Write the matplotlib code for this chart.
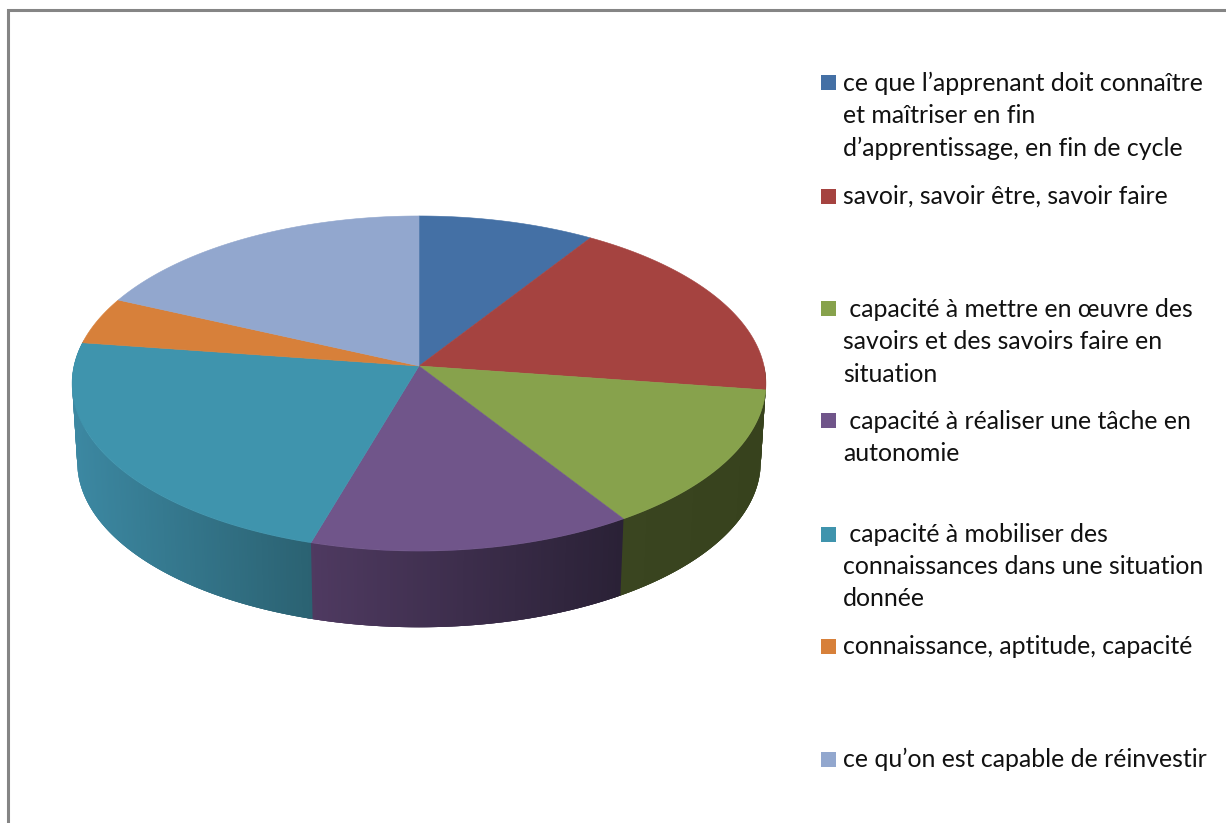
# -*- coding: utf-8 -*-
"""
plot.py
3D looking pie chart with the legend on the right
"""

import numpy as np
import matplotlib.pyplot as plt
from matplotlib.patches import Rectangle

# the data ...
labels = [
    ["ce que l’apprenant doit connaître", "et maîtriser en fin",
     "d’apprentissage, en fin de cycle"],
    ["savoir, savoir être, savoir faire"],
    [" capacité à mettre en œuvre des", "savoirs et des savoirs faire en",
     "situation"],
    [" capacité à réaliser une tâche en", "autonomie"],
    [" capacité à mobiliser des", "connaissances dans une situation",
     "donnée"],
    ["connaissance, aptitude, capacité"],
    ["ce qu’on est capable de réinvestir"],
]
values = [2, 4, 3, 3, 5, 1, 4]
colors = ["#4470A5", "#A54340", "#87A24C", "#70558A", "#3F94AD", "#D7803A",
          "#92A7CE"]

# side wall shade per slice, (left end, right end); None has no visible wall
wallColors = [None, ("#37421d", "#37421d"), ("#3a4520", "#37421d"),
              ("#4f3a61", "#2a2136"), ("#3c88a2", "#2b6272"), None, None]

# legend layout: text baseline of the first line, in pixels
legendBase = [90.5, 203.5, 316.5, 428.5, 541.5, 654, 767]
LINE_STEP = 32.5

# pie geometry, in pixels
CX, CY = 419, 366
A, B, K = 345.0, 165.7, 0.1045
DEPTH = 79
SHRINK = 0.985


def project(theta, scale=1.0, dy=0.0):
    """
    perspective view of the unit circle, theta clockwise from the top
    (in degrees). returns pixel coordinates
    """
    t = np.radians(theta)
    x, y = np.sin(t), np.cos(t)
    w = 1 + K*y
    return CX + scale*A*x/w, CY + dy - scale*B*y/w


def hexToRgb(c):
    return np.array([int(c[i:i+2], 16)/255.0 for i in (1, 3, 5)])


fig = plt.figure(figsize=(12.26, 8.23), dpi=100)
ax = fig.add_axes([0, 0, 1, 1])
ax.set_xlim(0, 1226)
ax.set_ylim(823, 0)
ax.axis('off')

# the border, only top and left are in the picture ...
ax.plot([8, 8, 1226], [823, 10, 10], color='#858585', linewidth=2.2,
        solid_joinstyle='miter', zorder=1)

edges = np.cumsum([0] + values)*360.0/np.sum(values)

# first the walls: narrow strips so that the shade can run from left to right.
# every strip overlaps the next ones a bit, this avoids seams between them
for i in range(len(values)):
    if wallColors[i] is None:
        continue
    a0 = max(edges[i], 90.0)
    a1 = min(edges[i+1], 280.0)
    steps = np.append(np.arange(a0, a1, 0.5), a1)
    xs, _ = project(steps)
    left, right = hexToRgb(wallColors[i][0]), hexToRgb(wallColors[i][1])
    for j in range(len(steps)-1):
        th = np.linspace(steps[j], steps[j] + 1.5, 4)
        xt, yt = project(th)
        xb, yb = project(th[::-1], SHRINK, DEPTH)
        f = (xs[j] - xs.min())/(xs.max() - xs.min())
        c = left + f*(right - left)
        ax.fill(np.r_[xt, xb], np.r_[yt, yb], facecolor=c, edgecolor='none',
                zorder=2)

# ... then the top face
for i in range(len(values)):
    th = np.linspace(edges[i], edges[i+1], 200)
    x, y = project(th)
    ax.fill(np.r_[CX, x], np.r_[CY, y], color=colors[i], linewidth=0.4,
            zorder=3)

# the legend
for i in range(len(labels)):
    base = legendBase[i]
    ax.add_patch(Rectangle((821, round(base)-15), 15, 15, facecolor=colors[i],
                           edgecolor='none', zorder=4))
    for n, line in enumerate(labels[i]):
        ax.text(843, base + n*LINE_STEP, line, family='Lato', fontsize=17.9,
                color='#111111', ha='left', va='baseline', zorder=4)

fig.savefig('out.png', dpi=100)
